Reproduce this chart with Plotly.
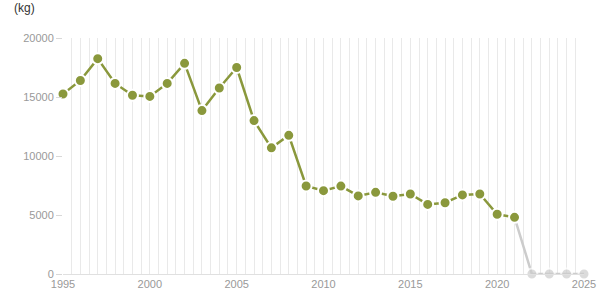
import plotly.graph_objects as go

years = list(range(1995, 2022))
values = [15250, 16400, 18250, 16150, 15150, 15050, 16150, 17850, 13850, 15760,
          17500, 13000, 10690, 11750, 7460, 7060, 7450, 6620, 6920, 6590,
          6780, 5900, 6040, 6700, 6780, 5060, 4800]
future_years = [2021, 2022, 2023, 2024, 2025]
future_values = [4800, 0, 0, 0, 0]

green = "#8a983c"
grey = "#cccccc"

fig = go.Figure()
fig.add_trace(go.Scatter(
    x=future_years, y=future_values, mode="lines+markers",
    line=dict(color=grey, width=2.5),
    marker=dict(color=grey, size=[0, 11, 11, 11, 11], line=dict(color="white", width=2)),
    cliponaxis=False, showlegend=False))
fig.add_trace(go.Scatter(
    x=years, y=values, mode="lines+markers",
    line=dict(color=green, width=2.5),
    marker=dict(color=green, size=11, line=dict(color="white", width=2)),
    cliponaxis=False, showlegend=False))

fig.update_layout(
    width=615, height=305,
    margin=dict(l=63, r=31, t=38, b=30.5),
    paper_bgcolor="white", plot_bgcolor="white",
    font=dict(family="Liberation Sans, Arial, sans-serif", size=11, color="#999999"),
    xaxis=dict(range=[1995, 2025], tickmode="linear", tick0=1995, dtick=5,
               showgrid=True, gridcolor="#e9e9e9", gridwidth=1,
               minor=dict(dtick=0.5, tick0=1995, showgrid=True, gridcolor="#e9e9e9", gridwidth=1),
               showline=True, linecolor="#e0e0e0", linewidth=1,
               ticks="", zeroline=False, tickfont=dict(size=11, color="#999999")),
    yaxis=dict(range=[0, 20000], tickmode="linear", tick0=0, dtick=5000, tickformat="d",
               showgrid=False, zeroline=False, showline=False,
               ticks="outside", ticklen=6, tickcolor="#d8d8d8", tickwidth=1,
               tickfont=dict(size=11, color="#999999")),
    annotations=[dict(text="(kg)", xref="paper", yref="paper",
                      x=-51 / 521, y=1 + 30 / 236.5, xanchor="left", yanchor="middle",
                      showarrow=False, font=dict(size=12, color="#333333"))],
)
fig.write_html("out.html")
